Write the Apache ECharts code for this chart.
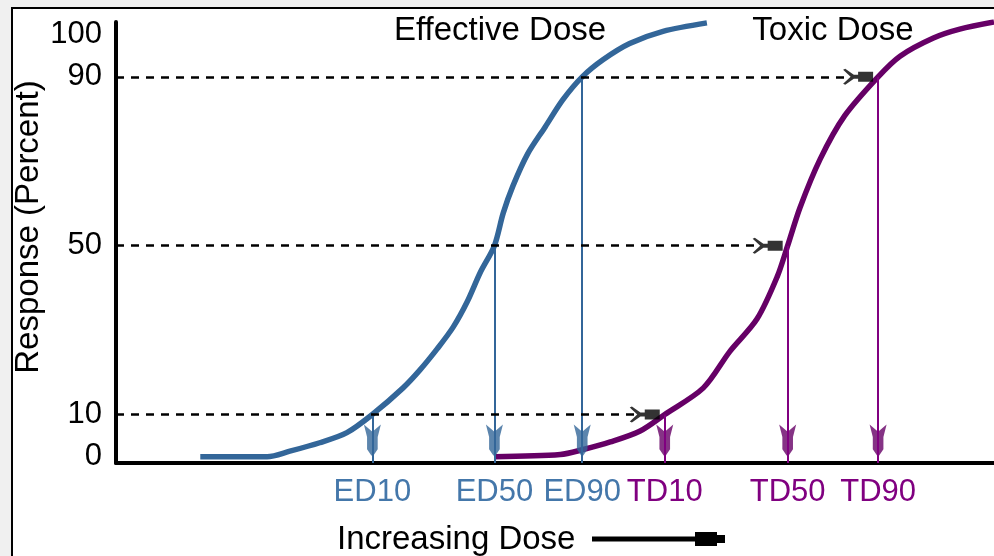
<!DOCTYPE html>
<html lang="en">
<head>
<meta charset="UTF-8">
<title>Effective Dose / Toxic Dose</title>
<style>
  html, body { margin: 0; overflow: hidden; background: #f0f0f0; }
  #frame {
    position: absolute; left: 11px; top: 7px; width: 1000px; height: 560px;
    border-left: 2px solid #000; border-top: 2px solid #000; background: #fff;
  }
  #chart { position: absolute; left: 0; top: 0; width: 994px; height: 556px; }
</style>
</head>
<body>
<div id="frame"></div>
<div id="chart"></div>
<script src="https://cdn.jsdelivr.net/npm/echarts@6/dist/echarts.min.js"></script>
<script>
// dose in arbitrary units (0..100 along the axis), response in percent
var effDose = [9.6, 17.2, 19.8, 23.2, 26.3, 29.2, 32.7, 34.6, 36.6, 38.4, 40.0, 41.5, 43.1, 44.1, 45.2, 46.9, 48.9, 50.9, 53.1, 55.5, 58.5, 62.3, 67.3];
var effResp = [0, 0, 1.3, 3.3, 5.7, 10, 16.3, 20.5, 25.6, 30.7, 36.7, 43.7, 50, 57.7, 64.1, 71.8, 78.2, 84.6, 90, 94.1, 97.9, 100.8, 102.8];

var toxDose = [43.1, 50.6, 53.2, 56.3, 59.7, 62.5, 66.9, 69.9, 73.0, 75.3, 76.5, 77.9, 80.2, 83.0, 86.8, 89.3, 93.1, 96.1, 100];
var toxResp = [0, 0.5, 1.7, 3.5, 6.1, 10, 16.3, 24.9, 32.6, 42.6, 50, 59.0, 70.5, 80.8, 90, 94.9, 99.2, 101.3, 103];

var markNames = ['ED10', 'ED50', 'ED90', 'TD10', 'TD50', 'TD90'];
var markDose = [29.2, 43.1, 53.1, 62.5, 76.5, 86.8];
var markLevel = [10, 50, 90, 10, 50, 90];

var yTicks = [0, 10, 50, 90, 100];

var font = '"Liberation Sans", Arial, sans-serif';
var blue = '#336699', purple = '#660066', purpleLine = '#800080';
var yMin = -1.5;

// arrow shapes
var downArrow = 'path://M0,0 L8,7 L16,0 L13,12 L13,24 L9,30 L7,30 L3,24 L3,12 Z';
var tailArrow = 'path://M0,1 L2,0 L10,6 L14,6 L14,3 L28,3 L28,13 L14,13 L14,10 L10,10 L2,16 L0,15 L7,8 Z';

function zip(a, b) {
    return a.map(function (v, i) { return [v, b[i]]; });
}

function dropLines(from, to) {
    var out = [];
    for (var i = from; i < to; i++) {
        out.push([{ coord: [markDose[i], markLevel[i]] }, { coord: [markDose[i], yMin] }]);
    }
    return out;
}

var chart = echarts.init(document.getElementById('chart'));

var option = {
    animation: false,
    textStyle: { fontFamily: font },
    grid: { left: 116, right: 0, top: 22, bottom: 93 },
    xAxis: {
        type: 'value',
        min: 0,
        max: 100,
        axisLine: { onZero: false, lineStyle: { color: '#000', width: 4 } },
        axisTick: { show: false },
        splitLine: { show: false },
        axisLabel: {
            customValues: markDose,
            margin: 14,
            formatter: function (v) {
                for (var i = 0; i < markDose.length; i++) {
                    if (Math.abs(markDose[i] - v) < 1e-6) {
                        return '{' + (i < 3 ? 'ed' : 'td') + '|' + markNames[i] + '}';
                    }
                }
                return '';
            },
            rich: {
                ed: { color: '#4477aa', fontSize: 31, fontFamily: font },
                td: { color: purpleLine, fontSize: 31, fontFamily: font }
            }
        }
    },
    yAxis: {
        type: 'value',
        min: yMin,
        max: 103,
        axisLine: { show: true, onZero: false, lineStyle: { color: '#000', width: 4 } },
        axisTick: { show: false },
        splitLine: { show: false },
        axisLabel: { customValues: yTicks, margin: 14, color: '#000', fontSize: 31, fontFamily: font }
    },
    graphic: [
        { type: 'text', x: 500, y: 31, style: { text: 'Effective Dose', font: '33px ' + font, fill: '#000', textAlign: 'center', textVerticalAlign: 'middle', align: 'center', verticalAlign: 'middle' } },
        { type: 'text', x: 833, y: 31, style: { text: 'Toxic Dose', font: '33px ' + font, fill: '#000', textAlign: 'center', textVerticalAlign: 'middle', align: 'center', verticalAlign: 'middle' } },
        { type: 'text', x: 29, y: 227, rotation: Math.PI / 2, style: { text: 'Response (Percent)', font: '33px ' + font, fill: '#000', textAlign: 'center', textVerticalAlign: 'middle', align: 'center', verticalAlign: 'middle' } },
        { type: 'text', x: 337, y: 540, style: { text: 'Increasing Dose', font: '33px ' + font, fill: '#000', textAlign: 'left', textVerticalAlign: 'middle', align: 'left', verticalAlign: 'middle' } },
        { type: 'line', shape: { x1: 592, y1: 539, x2: 700, y2: 539 }, style: { stroke: '#000', lineWidth: 5 } },
        { type: 'rect', shape: { x: 695, y: 532, width: 22, height: 14 }, style: { fill: '#000' } },
        { type: 'rect', shape: { x: 716, y: 535, width: 9, height: 8 }, style: { fill: '#000' } }
    ],
    series: [
        {
            name: 'Effective Dose',
            type: 'line',
            data: zip(effDose, effResp),
            symbol: 'none',
            smooth: 0.3,
            lineStyle: { color: blue, width: 5.5 },
            itemStyle: { color: blue },
            z: 3,
            markLine: {
                silent: true,
                symbol: ['none', 'none'],
                label: { show: false },
                lineStyle: { color: blue, width: 2, type: 'solid' },
                data: dropLines(0, 3)
            }
        },
        {
            name: 'Toxic Dose',
            type: 'line',
            data: zip(toxDose, toxResp),
            symbol: 'none',
            smooth: 0.3,
            lineStyle: { color: purple, width: 5.5 },
            itemStyle: { color: purple },
            z: 3,
            markLine: {
                silent: true,
                symbol: ['none', 'none'],
                label: { show: false },
                lineStyle: { color: purpleLine, width: 2, type: 'solid' },
                data: dropLines(3, 6)
            }
        },
        {
            // dashed guides at 10/50/90 ending in a tail arrow at the toxic curve
            type: 'scatter',
            clip: false,
            symbol: tailArrow,
            symbolSize: [30, 16],
            symbolOffset: [-20, 0],
            itemStyle: { color: '#000' },
            z: 4,
            data: markDose.slice(3).map(function (d, i) { return [d, markLevel[i + 3]]; }),
            markLine: {
                silent: true,
                symbol: ['none', 'none'],
                label: { show: false },
                lineStyle: { color: '#000', width: 2.5, type: [8, 7] },
                data: markDose.slice(3).map(function (d, i) {
                    return [{ coord: [0, markLevel[i + 3]] }, { coord: [d - 3.5, markLevel[i + 3]] }];
                })
            }
        },
        {
            // down arrows on the drop lines
            type: 'scatter',
            clip: false,
            symbol: downArrow,
            symbolSize: [17, 31],
            symbolOffset: [0, -23],
            z: 4,
            data: markDose.map(function (d, i) {
                return { value: [d, yMin], itemStyle: { color: i < 3 ? blue : purple } };
            })
        }
    ]
};

chart.setOption(option);
</script>
</body>
</html>
